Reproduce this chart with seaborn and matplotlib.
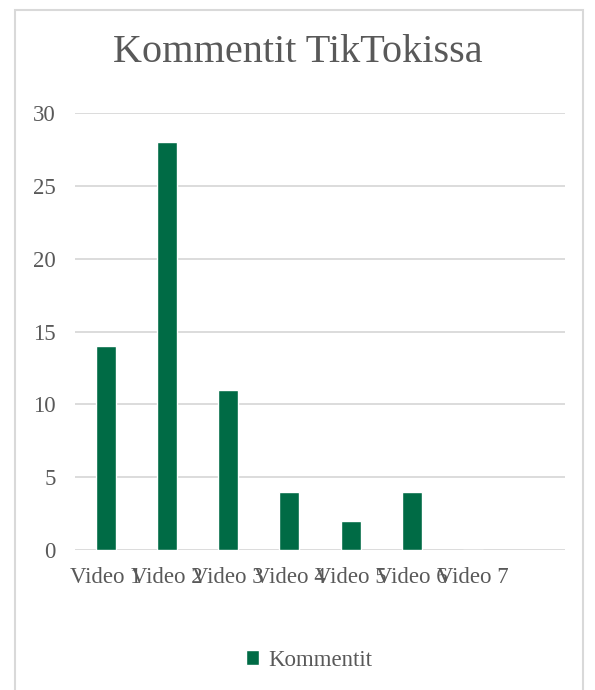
import numpy as np
import pandas as pd
import matplotlib
matplotlib.use("Agg")
import matplotlib.pyplot as plt
import seaborn as sns
from matplotlib.patches import Rectangle

videos = ["Video 1", "Video 2", "Video 3", "Video 4", "Video 5", "Video 6", "Video 7"]
kommentit = [14, 28, 11, 4, 2, 4, 0]

df = pd.DataFrame({"video": videos, "Kommentit": kommentit})

sns.set_style("white")
plt.rcParams["font.family"] = ["Liberation Serif", "DejaVu Serif"]
grey = "#595959"
green = "#006B45"

fig = plt.figure(figsize=(5.95, 6.90), dpi=100)
ax = fig.add_axes([75 / 595, 140 / 690, 490 / 595, 437 / 690])

sns.barplot(data=df, x="video", y="Kommentit", color=green, width=0.33,
            saturation=1, ax=ax, label="Kommentit", zorder=3)

ax.set_xlim(-0.5, 7.5)
ax.set_ylim(0, 30)
ax.set_yticks([0, 5, 10, 15, 20, 25, 30])
ax.yaxis.grid(True, color="#D9D9D9", linewidth=1.3, zorder=0)
ax.set_axisbelow(True)
for s in ax.spines.values():
    s.set_visible(False)
ax.tick_params(axis="both", length=0, labelsize=16.5, labelcolor=grey)
ax.tick_params(axis="y", pad=14)
ax.tick_params(axis="x", pad=12)
ax.set_xlabel("")
ax.set_ylabel("")

fig.text(0.5, 1 - 52 / 690, "Kommentit TikTokissa", ha="center", va="center",
         fontsize=29, color=grey)

ax.legend(loc="center", bbox_to_anchor=(309 / 595, 30 / 690),
          bbox_transform=fig.transFigure, frameon=False, fontsize=16.5,
          labelcolor=grey, handlelength=0.6, handleheight=0.6, handletextpad=0.4)

fig.patches.append(Rectangle((15 / 595, -0.05), 568 / 595, 1.05 - 10 / 690,
                             transform=fig.transFigure, fill=False,
                             edgecolor="#D9D9D9", linewidth=1.5))

fig.savefig("out.png", dpi=100)
